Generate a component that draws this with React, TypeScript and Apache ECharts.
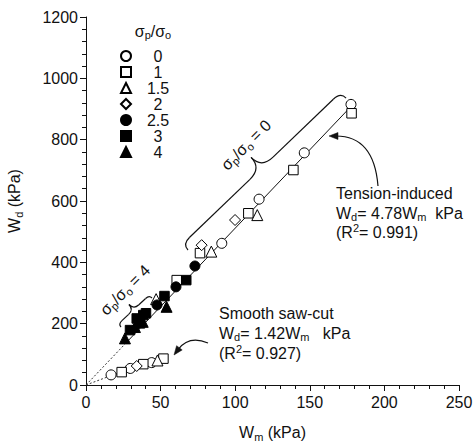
import React, { useEffect, useRef } from "react";
import * as echarts from "echarts";

const FONT = "Liberation Sans, Arial, Helvetica, sans-serif";

// legend categories: sigma_p / sigma_o
const ratioNames = ["0", "1", "1.5", "2", "2.5", "3", "4"];

// Tension-induced fractures (Wm kPa, Wd kPa)
const tension0 = [[91, 462], [116, 606], [146.3, 757], [177.6, 915]];
const tension1 = [[60.8, 342], [76.4, 430], [108.8, 560], [139, 701], [178, 886]];
const tension15 = [[47, 280], [84, 435], [114.8, 554]];
const tension2 = [[77.5, 456], [99.9, 538]];
const tension25 = [[47.6, 261], [60.3, 320], [73, 388]];
const tension3 = [[29.5, 179], [34, 217], [36.2, 201], [38.4, 228], [40.2, 234], [52.6, 290], [67.2, 342]];
const tension4 = [[26.1, 152], [32.8, 189], [38, 206], [54, 255]];

// Smooth saw-cut (Wm kPa, Wd kPa)
const smooth0 = [[16.8, 33], [29.7, 54], [44, 73]];
const smooth1 = [[23.9, 42], [38.4, 68], [51.9, 86]];
const smooth15 = [[47.9, 80]];
const smooth2 = [[34, 62]];
const smooth25: number[][] = [];
const smooth3: number[][] = [];
const smooth4: number[][] = [];

// fitted lines
const tensionFitDotted = [[0, 0], [26, 133]];
const tensionFitSolid = [[26, 133], [176, 900]];
const smoothFitDotted = [[0, 0], [17, 31]];
const smoothFitSolid = [[17, 31], [52, 85]];

const tensionSets = [tension0, tension1, tension15, tension2, tension25, tension3, tension4];
const smoothSets = [smooth0, smooth1, smooth15, smooth2, smooth25, smooth3, smooth4];
const symbols = ["circle", "rect", "triangle", "diamond", "circle", "rect", "triangle"];
const symbolSizes = [10, 9.5, 11, 11, 10, 9.5, 11];
const filled = [false, false, false, false, true, true, true];

const INK = "#111";

const RICH_G = {
  s: { fontSize: 11, fontFamily: FONT, fill: INK, verticalAlign: "bottom", lineHeight: 11 },
  u: { fontSize: 11, fontFamily: FONT, fill: INK, verticalAlign: "top", lineHeight: 11 },
};

function txt(x: number, y: number, text: string, extra: any = {}, align = "left") {
  return {
    type: "text",
    x,
    y,
    z: 20,
    ...extra,
    style: {
      text,
      fill: INK,
      fontSize: 16,
      fontFamily: FONT,
      align,
      verticalAlign: "middle",
      lineHeight: 19,
      rich: RICH_G,
    },
  };
}

function brace(ax: number, ay: number, bx: number, by: number, h1: number, h: number, we: number, wc: number) {
  const dx = bx - ax;
  const dy = by - ay;
  const L = Math.hypot(dx, dy);
  const rot = Math.atan2(-dy, dx);
  const st = { stroke: INK, lineWidth: 1.2, fill: null };
  const m = L / 2;
  return {
    type: "group",
    x: ax,
    y: ay,
    rotation: rot,
    z: 20,
    children: [
      { type: "bezierCurve", shape: { x1: 0, y1: 0, cpx1: 0, cpy1: -h1, x2: we, y2: -h1 }, style: st },
      { type: "line", shape: { x1: we, y1: -h1, x2: m - wc, y2: -h1 }, style: st },
      { type: "bezierCurve", shape: { x1: m - wc, y1: -h1, cpx1: m, cpy1: -h1, x2: m, y2: -h }, style: st },
      { type: "bezierCurve", shape: { x1: m, y1: -h, cpx1: m, cpy1: -h1, x2: m + wc, y2: -h1 }, style: st },
      { type: "line", shape: { x1: m + wc, y1: -h1, x2: L - we, y2: -h1 }, style: st },
      { type: "bezierCurve", shape: { x1: L - we, y1: -h1, cpx1: L, cpy1: -h1, x2: L, y2: 0 }, style: st },
    ],
  };
}

function arrow(sx: number, sy: number, cx: number, cy: number, tx: number, ty: number) {
  let ux = tx - cx;
  let uy = ty - cy;
  const n = Math.hypot(ux, uy);
  ux /= n;
  uy /= n;
  const len = 9;
  const w = 3.5;
  const bx = tx - ux * len;
  const by = ty - uy * len;
  return [
    {
      type: "bezierCurve",
      z: 20,
      shape: { x1: sx, y1: sy, cpx1: cx, cpy1: cy, x2: bx + ux * 2, y2: by + uy * 2 },
      style: { stroke: INK, lineWidth: 1.2, fill: null },
    },
    {
      type: "polygon",
      z: 20,
      shape: { points: [[tx, ty], [bx - uy * w, by + ux * w], [bx + uy * w, by - ux * w]] },
      style: { fill: INK, stroke: INK, lineWidth: 0.5 },
    },
  ];
}

export default function App() {
  const ref = useRef<HTMLDivElement>(null);

  useEffect(() => {
    if (!ref.current) return;
    const chart = echarts.init(ref.current, null, { renderer: "svg" });

    const axisCommon = {
      type: "value",
      nameLocation: "middle",
      axisLine: { show: true, onZero: false, lineStyle: { color: INK, width: 1 } },
      axisTick: { show: true, inside: false, length: 6, lineStyle: { color: INK, width: 1 } },
      minorTick: { show: true, splitNumber: 5, length: 4, lineStyle: { color: INK, width: 1 } },
      splitLine: { show: false },
      minorSplitLine: { show: false },
      nameTextStyle: {
        fontSize: 16,
        color: INK,
        fontFamily: FONT,
        lineHeight: 19,
        rich: {
          s: { fontSize: 11, color: INK, fontFamily: FONT, verticalAlign: "bottom", lineHeight: 11 },
        },
      },
    };

    const scatterSeries = ratioNames.map((name, i) => ({
      type: "scatter",
      name,
      data: [...tensionSets[i], ...smoothSets[i]],
      symbol: symbols[i],
      symbolSize: symbolSizes[i],
      z: 5,
      itemStyle: filled[i]
        ? { color: "#000", borderColor: "#000", borderWidth: 1, opacity: 1 }
        : { color: "#fff", borderColor: "#000", borderWidth: 1, opacity: 1 },
      emphasis: { disabled: true },
    }));

    const lineSeries = (data: number[][], dotted: boolean) => ({
      type: "line",
      data,
      symbol: "none",
      silent: true,
      z: 2,
      lineStyle: { color: dotted ? "#333" : INK, width: 1, type: dotted ? [2, 2] : "solid" },
    });

    const graphic: any[] = [
      txt(153, 31, "σ{s|p}/σ{s|o}", {}, "center"),
      txt(336, 193, "Tension-induced"),
      txt(336, 213, "W{s|d}= 4.78W{s|m}  kPa"),
      txt(336, 232, "(R{u|2}= 0.991)"),
      txt(219, 313, "Smooth saw-cut"),
      txt(219, 333, "W{s|d}= 1.42W{s|m}   kPa"),
      txt(219, 353, "(R{u|2}= 0.927)"),
      txt(246, 145, "σ{s|p}/σ{s|o} = 0", { rotation: Math.PI / 4 }, "center"),
      txt(125, 290, "σ{s|p}/σ{s|o} = 4", { rotation: Math.PI / 4 }, "center"),
      brace(188, 250, 346, 98, 8, 23, 10, 16),
      brace(121, 327, 152, 298, 4, 11, 5, 7),
      ...arrow(378, 186, 374, 136, 329, 136),
      ...arrow(208, 343, 189, 335, 174, 355),
    ];

    chart.setOption({
      animation: false,
      backgroundColor: "#fff",
      textStyle: { fontFamily: FONT, color: INK },
      grid: { left: 86, right: 16, top: 17, bottom: 60, containLabel: false, outerBoundsMode: "none" },
      xAxis: {
        ...axisCommon,
        min: 0,
        max: 250,
        interval: 50,
        name: "W{s|m} (kPa)",
        nameGap: 38,
        axisLabel: { fontSize: 16, color: INK, fontFamily: FONT, margin: 9, formatter: (v: number) => String(v) },
      },
      yAxis: {
        ...axisCommon,
        min: 0,
        max: 1200,
        interval: 200,
        name: "W{s|d} (kPa)",
        nameGap: 62,
        axisLabel: { fontSize: 16, color: INK, fontFamily: FONT, margin: 8, formatter: (v: number) => String(v) },
      },
      legend: {
        data: ratioNames,
        orient: "vertical",
        left: 115,
        top: 43,
        itemWidth: 10,
        itemHeight: 10,
        itemGap: 0,
        selectedMode: false,
        formatter: (n: string) => "{a|" + n + "}",
        textStyle: {
          fontSize: 16,
          color: INK,
          fontFamily: FONT,
          rich: { a: { width: 44, align: "center", fontSize: 16, lineHeight: 16, color: INK, fontFamily: FONT } },
        },
      },
      series: [
        lineSeries(tensionFitDotted, true),
        lineSeries(tensionFitSolid, false),
        lineSeries(smoothFitDotted, true),
        lineSeries(smoothFitSolid, false),
        ...scatterSeries,
      ],
      graphic,
    });

    return () => chart.dispose();
  }, []);

  return (
    <div
      ref={ref}
      style={{ position: "absolute", left: 0, top: 0, width: 475, height: 445, background: "#fff" }}
    />
  );
}
